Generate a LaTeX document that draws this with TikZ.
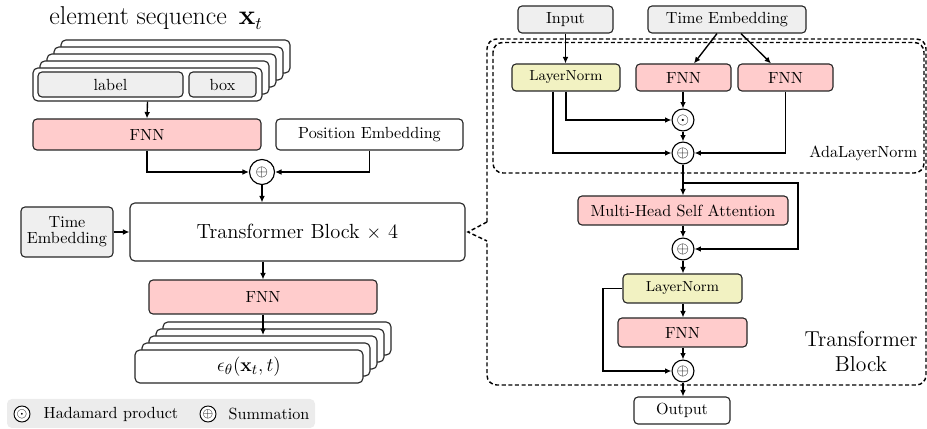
\documentclass[tikz,border=0pt]{standalone}
\usetikzlibrary{arrows.meta,calc}
\definecolor{pinkf}{HTML}{FFCCCC}
\definecolor{yelf}{HTML}{F2F2C2}
\definecolor{grayf}{HTML}{EFEFEF}
\definecolor{legf}{HTML}{ECECEC}
\newcommand{\mkbox}[6]{\node[#1, minimum width=#4*0.62pt, minimum height=#5*0.62pt] (#2) at (#3) {#6};}
\begin{document}
\begin{tikzpicture}[x=0.62pt,y=-0.62pt,
  bx/.style={draw=black!85, line width=0.7pt, rounded corners=2.5pt, inner sep=0pt, font=\normalsize},
  pinkbox/.style={bx, fill=pinkf},
  yelbox/.style={bx, fill=yelf},
  graybox/.style={bx, fill=grayf},
  whitebox/.style={bx, fill=white},
  opc/.style={circle, draw=black, line width=0.7pt, fill=white, inner sep=0pt, minimum size=13.6pt},
  arr/.style={-{Latex[length=4pt,width=3.6pt]}, line width=0.85pt},
  dsh/.style={line width=0.9pt, dash pattern=on 2.5pt off 1.6pt},
]
\useasboundingbox (0,0) rectangle (927,429);

% ---------- left column ----------
\node[anchor=base, font=\fontsize{16}{19}\selectfont] (title) at (156,25) {element sequence\,\ $\mathbf{x}_t$};
\foreach \k in {4,3,2,1}{
  \node[whitebox, rounded corners=3pt, minimum width=229*0.62pt, minimum height=33*0.62pt] (seq\k) at ({147.5+7*\k},{84.5-7*\k}) {};
}
\mkbox{whitebox, rounded corners=3pt}{seq}{147.5,84.5}{229}{33}{}
\mkbox{graybox}{lab}{110.5,84.5}{145}{25}{label}
\mkbox{graybox}{boxin}{222.5,84.5}{67}{25}{box}
\mkbox{pinkbox}{fnnA}{147,134.5}{228}{31}{FNN}
\mkbox{whitebox}{pos}{369.5,134.5}{187}{31}{Position Embedding}
\node[opc, minimum size=25*0.62pt] (sum0) at (262,172) {$\oplus$};
\mkbox{whitebox, font=\fontsize{12.7}{15}\selectfont, rounded corners=3pt}{tb}{297.5,232}{335}{58}{Transformer Block $\times$ 4}
\mkbox{graybox, align=center}{teA}{67,232}{92}{50}{Time\\[-2pt]Embedding}
\mkbox{pinkbox}{fnnB}{263,297}{228}{34}{FNN}
\foreach \k in {4,3,2,1}{
  \node[whitebox, rounded corners=3pt, minimum width=228*0.62pt, minimum height=33*0.62pt] (out\k) at ({249+7*\k},{366.5-7*\k}) {};
}
\mkbox{whitebox, font=\fontsize{12.8}{15}\selectfont, rounded corners=3pt}{outA}{249,366.5}{228}{33}{$\epsilon_\theta(\mathbf{x}_t, t)$}
\coordinate (outtip) at (263,335);

% legend
\fill[legf, rounded corners=3pt] (7,399) rectangle (315,428);
\node[opc, minimum size=16*0.62pt, line width=0.6pt] (lgh) at (22,414) {\footnotesize$\odot$};
\node[anchor=west] (lght) at (38,414) {Hadamard product};
\node[opc, minimum size=16*0.62pt, line width=0.6pt] (lgs) at (208,414) {\footnotesize$\oplus$};
\node[anchor=west] (lgst) at (223,414) {Summation};

% ---------- right column ----------
\draw[dsh, rounded corners=6pt] (487,222) -- (487,39) -- (926,39) -- (926,385) -- (487,385) -- (487,241);
\draw[dsh] (487,222) -- (468,232) -- (487,241);
\draw[dsh, rounded corners=6pt] (493,42.5) rectangle (924,173);

\mkbox{graybox}{inp}{565.5,19.5}{95}{27}{Input}
\mkbox{graybox}{teB}{727,19.5}{158}{27}{Time Embedding}
\mkbox{yelbox, font=\small}{lnA}{566,77.5}{108}{27}{LayerNorm}
\mkbox{pinkbox}{fnnC}{683.5,77.5}{95}{27}{FNN}
\mkbox{pinkbox}{fnnD}{785.5,77.5}{95}{27}{FNN}
\node[opc] (had) at (683,120) {$\odot$};
\node[opc] (sumA) at (683,153) {$\oplus$};
\node[anchor=east] (adal) at (923,153) {AdaLayerNorm};
\mkbox{pinkbox}{mhsa}{683,210.5}{210}{29}{Multi-Head Self Attention}
\node[opc] (sumB) at (683,249) {$\oplus$};
\mkbox{yelbox, font=\small}{lnB}{682.5,288.5}{119}{29}{LayerNorm}
\mkbox{pinkbox}{fnnE}{682.5,332.5}{129}{29}{FNN}
\node[opc] (sumC) at (683,371) {$\oplus$};
\mkbox{whitebox}{outp}{682,410.5}{96}{27}{Output}
\node[align=center, font=\fontsize{13.4}{15.5}\selectfont] (tblab) at (861,352) {Transformer\\Block};
\coordinate (br1) at (683,183);
\coordinate (br2) at (798,183);
\coordinate (sk) at (603,288.5);

% ---------- connectors ----------
\draw[arr] (seq.south) -- (fnnA.north);
\draw[arr] (fnnA.south) |- (sum0.west);
\draw[arr] (pos.south) |- (sum0.east);
\draw[arr] (sum0.south) -- (sum0.south |- tb.north);
\draw[arr] (teA.east) -- (tb.west);
\draw[arr] (fnnB.north |- tb.south) -- (fnnB.north);
\draw[arr] (fnnB.south) -- (outtip);

\draw[arr] (inp.south) -- (inp.south |- lnA.north);
\draw[arr] ($(teB.south)+(-10,0)$) -- ($(fnnC.north)+(10.5,0)$);
\draw[arr] ($(teB.south)+(14,0)$) -- ($(fnnD.north)+(-14.5,0)$);
\draw[arr] (lnA.south) |- (had.west);
\draw[arr] ($(lnA.south)+(-13,0)$) |- (sumA.west);
\draw[arr] (had.north |- fnnC.south) -- (had.north);
\draw[arr] (had.south) -- (sumA.north);
\draw[arr] (fnnD.south) |- (sumA.east);
\draw[arr] (sumA.south) -- (mhsa.north);
\draw[arr, line join=miter] (br1) -- (br2) |- (sumB.east);
\draw[arr] (mhsa.south) -- (sumB.north);
\draw[arr] (sumB.south) -- (sumB.south |- lnB.north);
\draw[arr] (sumB.south |- lnB.south) -- (sumB.south |- fnnE.north);
\draw[arr] (sumC.north |- fnnE.south) -- (sumC.north);
\draw[arr] (lnB.west) -- (sk) |- (sumC.west);
\draw[arr] (sumC.south) -- (sumC.south |- outp.north);
\end{tikzpicture}
\end{document}
